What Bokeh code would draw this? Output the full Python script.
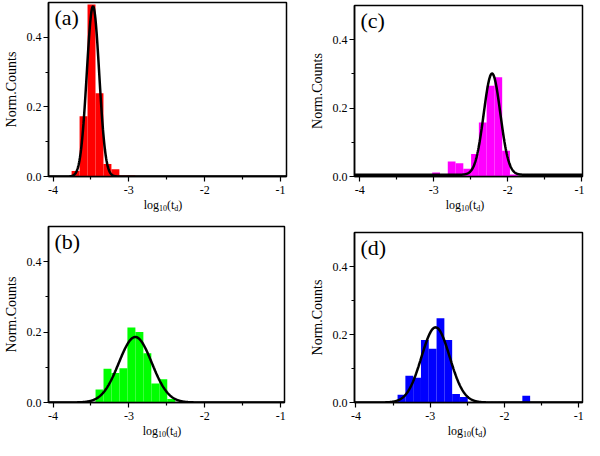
import numpy as np
from bokeh.plotting import figure
from bokeh.layouts import column, row
from bokeh.models import Label, FixedTicker, NumeralTickFormatter, Range1d, Div
from bokeh.embed import file_html
from bokeh.resources import INLINE

# ---------------- data ----------------
BIN_W = 0.105
x_ticks = [-4, -3, -2, -1]
x_minor = [-3.5, -2.5, -1.5]
y_ticks = [0.0, 0.2, 0.4]
y_minor = [0.1, 0.3]

# (a) red
a_x = [-3.7025, -3.5975, -3.4925, -3.3875, -3.2825, -3.1775, -3.0725, -2.9675]
a_y = [0.016, 0.173, 0.494, 0.239, 0.036, 0.021, 0.003, 0.003]
a_fit = dict(center=-3.473, sigma=0.082, amp=0.489, base=0.0)

# (b) green
b_x = [-3.3875, -3.2825, -3.1775, -3.0725, -2.9675, -2.8625, -2.7575, -2.6525, -2.5475, -2.4425]
b_y = [0.037, 0.096, 0.084, 0.097, 0.213, 0.200, 0.140, 0.054, 0.066, 0.010]
b_fit = dict(center=-2.916, sigma=0.217, amp=0.186, base=0.0)

# (c) magenta
c_x = [-3.3875, -3.0725, -2.9675, -2.8625, -2.7575, -2.6525, -2.5475, -2.4425,
       -2.3375, -2.2325, -2.1275, -2.0225, -1.9175]
c_y = [0.006, 0.006, 0.012, 0.005, 0.044, 0.039, 0.023, 0.066,
       0.158, 0.265, 0.290, 0.075, 0.006]
c_fit = dict(center=-2.212, sigma=0.112, amp=0.296, base=0.005)

# (d) blue
d_x = [-3.3875, -3.2825, -3.1775, -3.0725, -2.9675, -2.8625, -2.7575, -2.6525, -2.5475, -1.7075]
d_y = [0.023, 0.079, 0.073, 0.184, 0.158, 0.248, 0.184, 0.025, 0.016, 0.020]
d_fit = dict(center=-2.928, sigma=0.19, amp=0.221, base=0.0)

FONT = "Liberation Serif"
XLABEL_HTML = ('log<sub style="font-size:8px;vertical-align:-2px">10</sub>(t'
               '<sub style="font-size:8px;vertical-align:-2px">d</sub>)')


def gauss(xs, f):
    return f["base"] + f["amp"] * np.exp(-0.5 * ((xs - f["center"]) / f["sigma"]) ** 2)


def panel(letter, xs, ys, color, fit, xr, width, height, bl, br, bt, bb, div_h):
    p = figure(width=width, height=height, x_range=Range1d(*xr), y_range=Range1d(0, 0.5),
               output_backend="svg", toolbar_location=None,
               min_border_left=bl, min_border_right=br, min_border_top=bt, min_border_bottom=bb)
    p.grid.visible = False
    p.outline_line_color = "black"
    p.outline_line_width = 1.5
    p.outline_line_alpha = 1.0
    p.background_fill_color = "white"
    p.border_fill_color = "white"

    p.xaxis.ticker = FixedTicker(ticks=x_ticks, minor_ticks=x_minor)
    p.yaxis.ticker = FixedTicker(ticks=y_ticks, minor_ticks=y_minor)
    p.xaxis.formatter = NumeralTickFormatter(format="0")
    p.yaxis.formatter = NumeralTickFormatter(format="0.0")
    for ax in (p.xaxis, p.yaxis):
        ax.axis_line_width = 1.5
        ax.axis_line_color = "black"
        ax.major_tick_line_width = 1.2
        ax.minor_tick_line_width = 1.2
        ax.major_tick_out = 5
        ax.major_tick_in = 0
        ax.minor_tick_out = 3
        ax.minor_tick_in = 0
        ax.major_label_text_font = FONT
        ax.major_label_text_font_size = "12px"
        ax.major_label_text_color = "black"
    p.xaxis.major_label_standoff = 4
    p.yaxis.major_label_standoff = 2
    p.yaxis.axis_label = "Norm.Counts"
    p.yaxis.axis_label_text_font = FONT
    p.yaxis.axis_label_text_font_size = "14px"
    p.yaxis.axis_label_text_font_style = "normal"
    p.yaxis.axis_label_text_color = "black"
    p.yaxis.axis_label_standoff = 5

    p.vbar(x=xs, top=ys, bottom=0, width=BIN_W, fill_color=color, line_color=None)
    xc = np.linspace(xr[0], xr[1], 600)
    p.line(xc, gauss(xc, fit), line_color="black", line_width=2.5)

    p.add_layout(Label(x=xr[0], y=0.5, x_offset=6, y_offset=-2, text=letter,
                       text_baseline="top", text_align="left",
                       text_font=FONT, text_font_size="22px", text_color="black"))

    frame_w = width - bl - br
    lab = Div(text=XLABEL_HTML, width=frame_w, height=div_h, margin=(0, 0, 0, bl),
              styles={"font-family": "'Liberation Serif', serif", "font-size": "12px",
                      "color": "black", "text-align": "center", "line-height": "12px",
                      "padding-top": "1px"})
    return column(p, lab, spacing=0)


pa = panel("(a)", a_x, a_y, "#FF0000", a_fit, (-4.06, -0.92), 306, 198, 40, 20, 2, 22, 16)
pc = panel("(c)", c_x, c_y, "#FF00FF", c_fit, (-4.07, -0.99), 278, 198, 42, 2, 5, 22, 16)
pb = panel("(b)", b_x, b_y, "#00FF00", b_fit, (-4.06, -0.95), 306, 210, 40, 22, 12, 22, 16)
pd = panel("(d)", d_x, d_y, "#0000FF", d_fit, (-4.02, -0.95), 278, 210, 46, 2, 18, 22, 16)

layout = column(row(pa, pc, spacing=0), row(pb, pd, spacing=0), spacing=0)
open("out.html", "w").write(file_html(layout, INLINE))
